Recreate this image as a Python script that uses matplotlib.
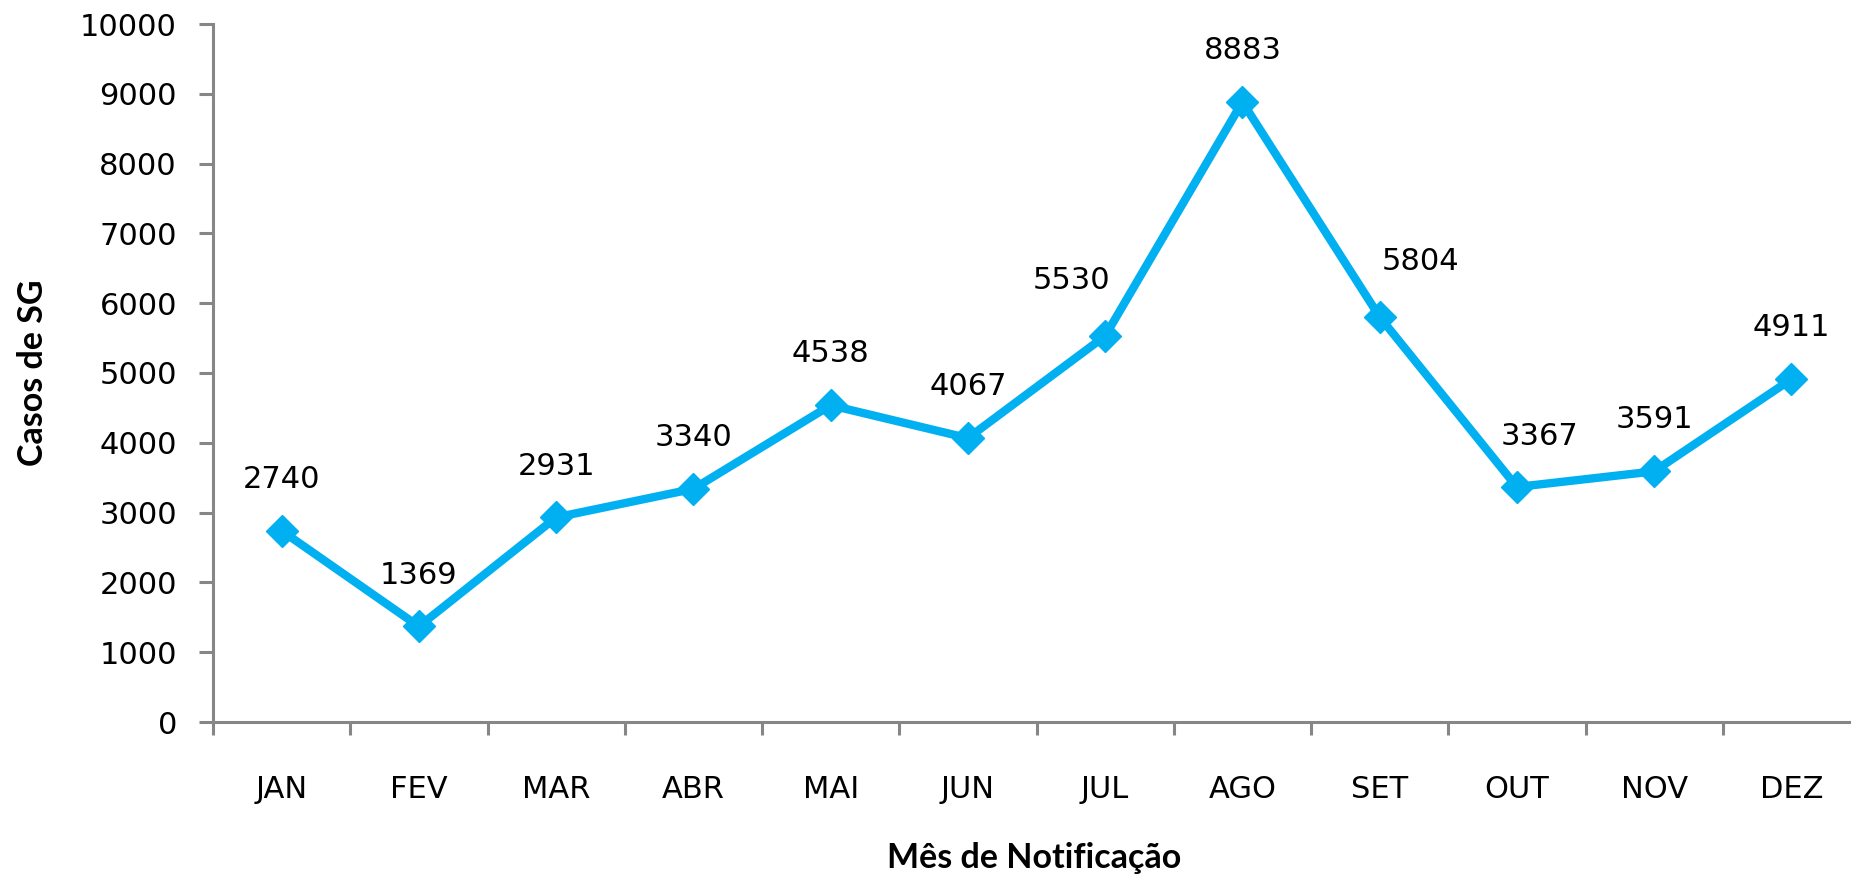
import matplotlib
matplotlib.use("Agg")
import matplotlib.pyplot as plt
import numpy as np

meses = ["JAN", "FEV", "MAR", "ABR", "MAI", "JUN", "JUL", "AGO", "SET", "OUT", "NOV", "DEZ"]
casos = [2740, 1369, 2931, 3340, 4538, 4067, 5530, 8883, 5804, 3367, 3591, 4911]
yticks = [0, 1000, 2000, 3000, 4000, 5000, 6000, 7000, 8000, 9000, 10000]

azul = "#00B0F0"
cinza = "#868686"

# deslocamento dos rotulos (pontos), alguns foram movidos a mao no original
desloc = {"JUL": (-24.5, 40), "SET": (29.5, 40), "OUT": (16, 36)}

fig = plt.figure(figsize=(18.51, 8.77), dpi=100)
ax = fig.add_axes([213/1851, 1 - 722/877, 1647/1851, 698/877])

x = np.arange(len(meses))
ax.plot(x, casos, color=azul, lw=6, marker="D", ms=16, mec=azul, mfc=azul)

for xi, m, v in zip(x, meses, casos):
    ax.annotate(str(v), (xi, v), xytext=desloc.get(m, (0, 37)), textcoords="offset points",
                ha="center", va="center", fontsize=22, family="DejaVu Sans")

ax.set_xlim(-0.5, len(meses) - 0.5)
ax.set_ylim(0, 10000)
ax.set_yticks(yticks)
ax.set_yticklabels([str(t) for t in yticks], fontsize=22)

# ticks entre as categorias, nomes no centro
ax.set_xticks(np.arange(len(meses) + 1) - 0.5)
ax.set_xticklabels([])
ax.set_xticks(x, minor=True)
ax.set_xticklabels(meses, minor=True, fontsize=22)
ax.tick_params(axis="x", which="major", direction="out", length=9, width=2.2, color=cinza)
ax.tick_params(axis="x", which="minor", length=0, pad=38)
ax.tick_params(axis="y", direction="out", length=10, width=2.2, color=cinza, pad=16)

for s in ["top", "right"]:
    ax.spines[s].set_visible(False)
for s in ["left", "bottom"]:
    ax.spines[s].set_color(cinza)
    ax.spines[s].set_linewidth(2.2)

fig.text(33/1851, 1 - 373/877, "Casos de SG", rotation=90, ha="center", va="center",
         fontsize=24.5, fontweight="bold", family="Lato")
fig.text(1034/1851, 1 - 858/877, "Mês de Notificação", ha="center", va="center",
         fontsize=24.5, fontweight="bold", family="Lato")

fig.savefig("out.png", dpi=100)
